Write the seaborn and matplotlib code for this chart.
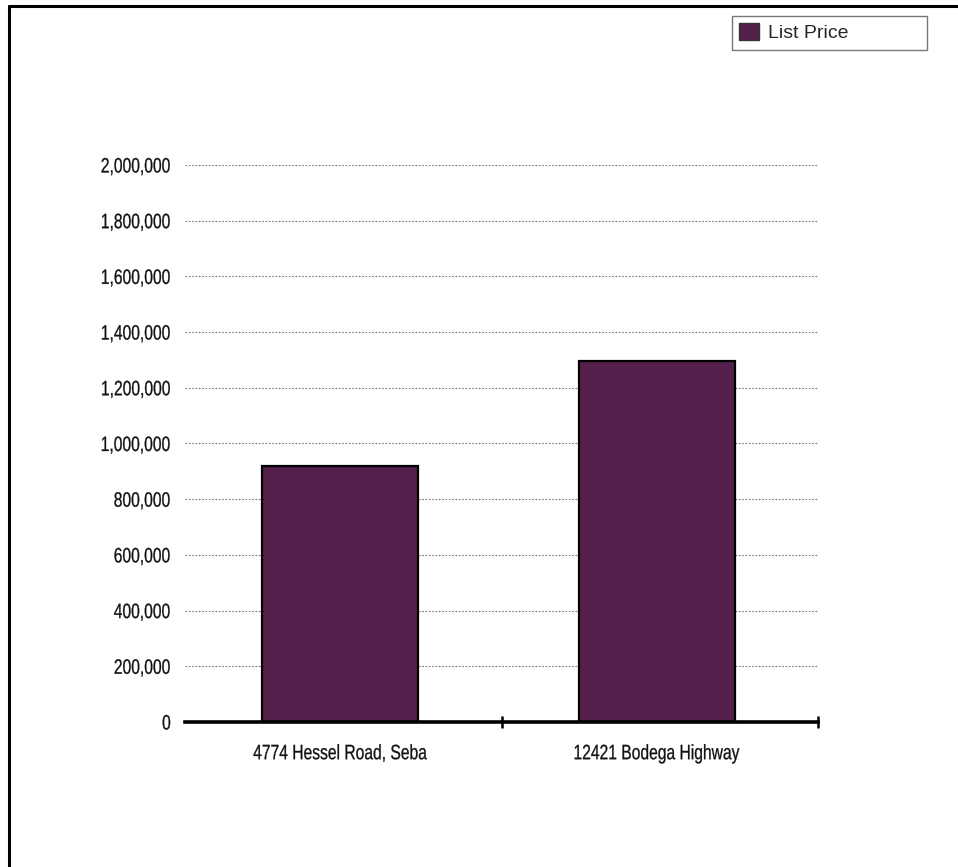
import matplotlib
matplotlib.use("Agg")
import matplotlib.pyplot as plt
from matplotlib.lines import Line2D
from matplotlib.patches import Patch
from matplotlib.patheffects import AbstractPathEffect
from matplotlib.transforms import Affine2D
from matplotlib.ticker import FuncFormatter, MultipleLocator, FixedLocator
import seaborn as sns
import pandas as pd

categories = ["4774 Hessel Road, Seba", "12421 Bodega Highway"]
list_price = [920000, 1295000]
series_name = "List Price"

sns.set_style("white")
plt.rcParams["font.family"] = ["Liberation Sans", "DejaVu Sans"]


class Squeeze(AbstractPathEffect):
    """Narrow (and slightly embolden) the glyphs, keeping text as Text."""
    def __init__(self, sx=0.8, anchor="center", stroke=0.2):
        super().__init__()
        self.sx = sx
        self.anchor = anchor
        self.stroke = stroke

    def draw_path(self, renderer, gc, tpath, affine, rgbFace=None):
        ext = tpath.get_extents()
        if self.anchor == "right":
            px = ext.x1
        elif self.anchor == "left":
            px = ext.x0
        else:
            px = (ext.x0 + ext.x1) / 2
        new_aff = Affine2D().translate(-px, 0).scale(self.sx, 1).translate(px, 0) + affine
        gc0 = renderer.new_gc()
        gc0.copy_properties(gc)
        gc0.set_linewidth(self.stroke)
        if rgbFace is not None:
            gc0.set_foreground(rgbFace)
        renderer.draw_path(gc0, tpath, new_aff, rgbFace)
        gc0.restore()


df = pd.DataFrame({"Address": categories, series_name: list_price})

fig = plt.figure(figsize=(9.58, 8.67), dpi=100)
ax = fig.add_axes([185/958, 1-722/867, (818-185)/958, (722-165)/867])

color = "#541F4B"
sns.barplot(data=df, x="Address", y=series_name, color=color, width=0.493,
            edgecolor="black", linewidth=1.6, saturation=1, ax=ax)

ax.set_xlim(-0.49, 1.51)
ax.set_ylim(0, 2000000)
ax.yaxis.set_major_locator(MultipleLocator(200000))
ax.yaxis.set_major_formatter(FuncFormatter(lambda v, p: f"{int(v):,}"))
ax.grid(axis="y", color="#777777", linestyle=(0, (1.5, 1.5)), linewidth=0.8)
ax.set_axisbelow(True)
ax.set_xlabel("")
ax.set_ylabel("")
for s in ["top", "right", "left"]:
    ax.spines[s].set_visible(False)
ax.spines["bottom"].set_linewidth(2.6)
ax.spines["bottom"].set_color("black")
ax.tick_params(axis="y", length=0, pad=10, labelsize=15, labelcolor="#111111")
ax.set_xticks([0, 1])
ax.set_xticklabels(categories)
ax.tick_params(axis="x", which="major", length=0, pad=16, labelsize=15,
               labelcolor="#111111")
ax.xaxis.set_minor_locator(FixedLocator([0.51, 1.51]))
ax.tick_params(axis="x", which="minor", bottom=True, length=8, width=1.8,
               direction="inout", color="black")
for lab in ax.get_yticklabels():
    lab.set_path_effects([Squeeze(0.75, "right")])
for lab in ax.get_xticklabels():
    lab.set_path_effects([Squeeze(0.75, "center")])

leg = fig.legend(handles=[Patch(facecolor=color, edgecolor="#333333", label=series_name)],
                 loc="upper left", bbox_to_anchor=(732/958, 1-52/867, 195/958, 36/867),
                 mode="expand", frameon=True, fancybox=False, fontsize=14,
                 handlelength=1.0, handleheight=0.93, borderpad=0.38,
                 handletextpad=0.45, borderaxespad=0)
leg.get_frame().set_edgecolor("#555555")
leg.get_frame().set_linewidth(1.0)

# figure border (top and left)
fig.add_artist(Line2D([9/958, 1], [1-6/867, 1-6/867], color="black", linewidth=2.2,
                      transform=fig.transFigure))
fig.add_artist(Line2D([9/958, 9/958], [0, 1-6/867], color="black", linewidth=2.2,
                      transform=fig.transFigure))

fig.savefig("out.png", dpi=100)
